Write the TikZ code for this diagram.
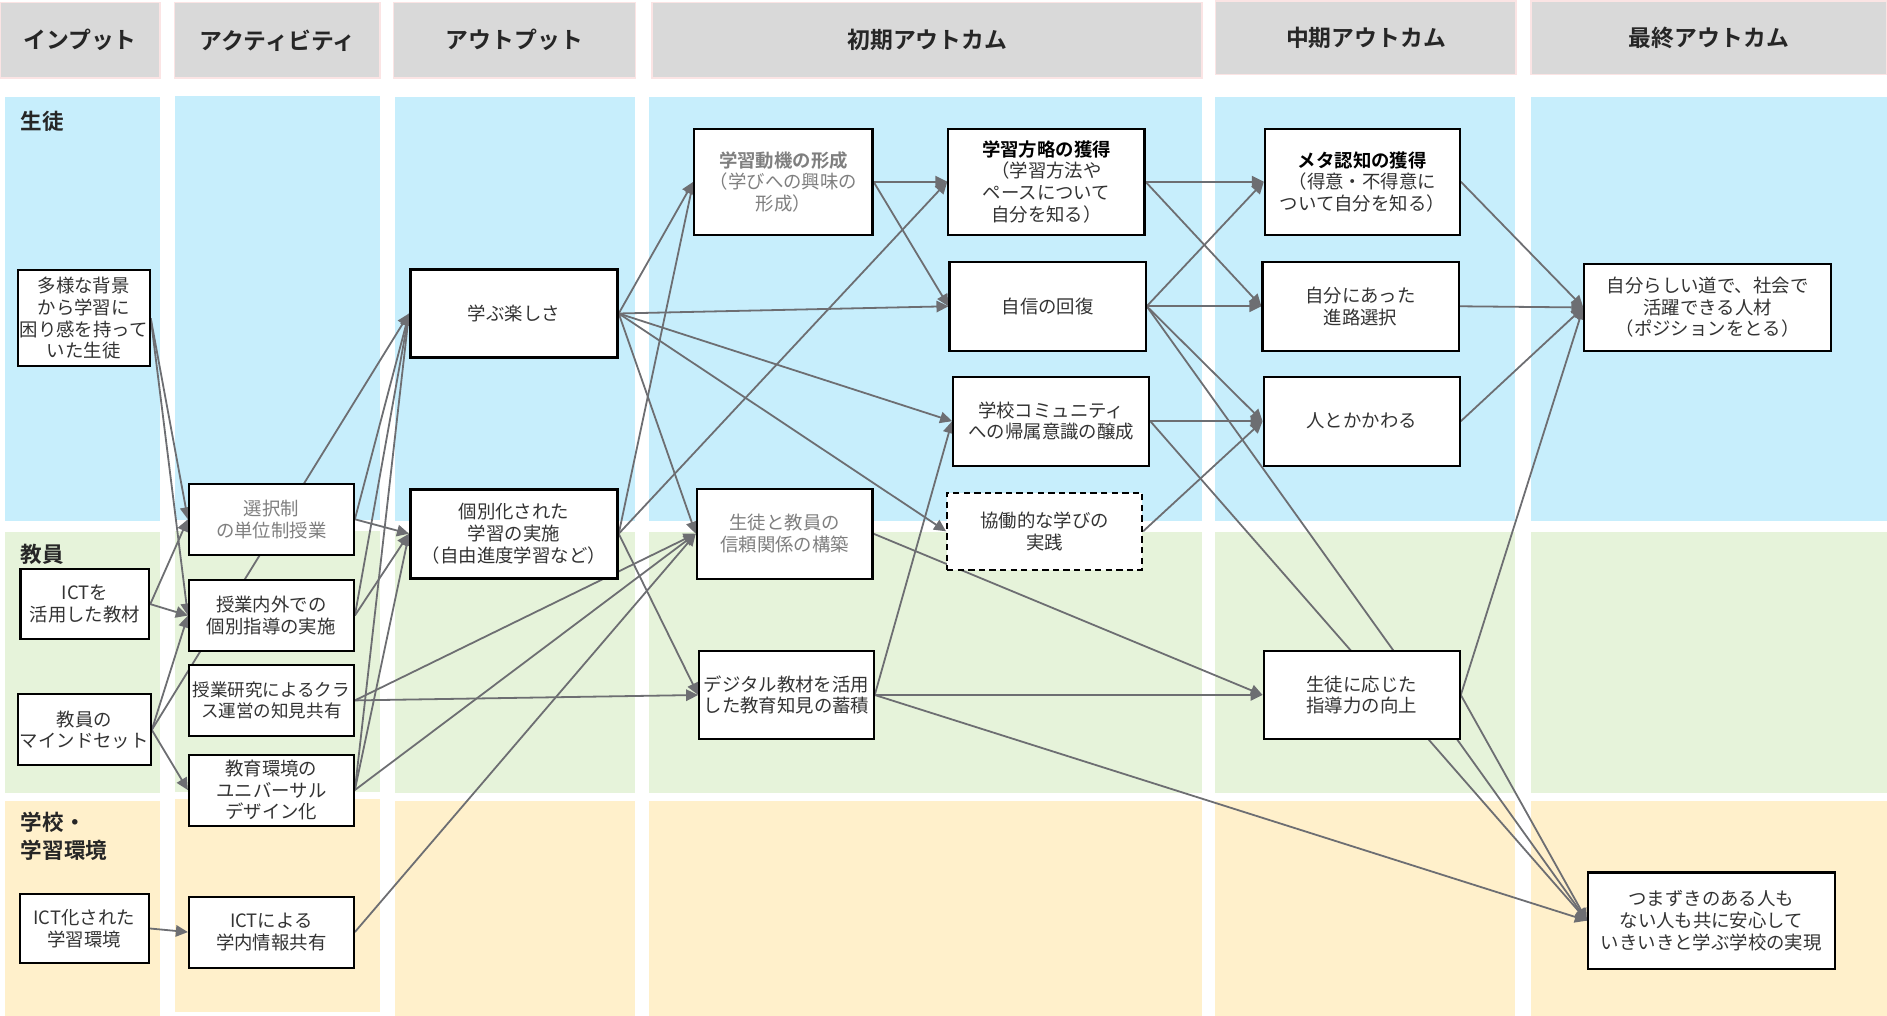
\documentclass[tikz,border=0pt]{standalone}
\usepackage{fontspec}
\setmainfont{Noto Sans CJK JP}[BoldFont={Noto Sans CJK JP Bold}]
\usepackage{tikz}
\usetikzlibrary{arrows.meta}
\pgfdeclarelayer{bands}
\pgfdeclarelayer{edges}
\pgfsetlayers{bands,edges,main}

\definecolor{hdrgray}{HTML}{D9D9D9}
\definecolor{hdrline}{HTML}{FBE4E4}
\definecolor{stublue}{HTML}{C7EEFC}
\definecolor{tchgreen}{HTML}{E6F3DA}
\definecolor{schyellow}{HTML}{FFF0CB}
\definecolor{linegray}{HTML}{6D6E72}
\definecolor{txthead}{HTML}{262626}
\definecolor{txtdark}{HTML}{333333}
\definecolor{txtlight}{HTML}{7F7F7F}

\begin{document}
\begin{tikzpicture}[x=0.02cm, y=-0.02cm,
	hdr/.style={fill=hdrgray, draw=hdrline, line width=0.8pt, text=txthead, font=\fontsize{10.8}{12}\selectfont\bfseries},
	grp/.style={text=txthead, font=\fontsize{10.2}{13}\selectfont\bfseries, align=left, inner sep=0pt, anchor=west},
	box/.style={draw=black, line width=1pt, fill=white, align=center, inner sep=1pt, text=txtdark, font=\fontsize{8.7}{10.2}\selectfont},
	pale/.style={box, text=txtlight},
	arr/.style={draw=linegray, line width=0.85pt, -{Triangle[length=0.2cm, width=0.19cm]}}]
	\useasboundingbox (0,0) rectangle (1568,844);
	%
	\begin{pgfonlayer}{bands}
	\fill[stublue] (4,81) rectangle (133,433);
	\fill[stublue] (145,80) rectangle (316,432);
	\fill[stublue] (328,81) rectangle (528,433);
	\fill[stublue] (539,81) rectangle (999,433);
	\fill[stublue] (1010,81) rectangle (1259,433);
	\fill[stublue] (1272,81) rectangle (1568,433);
	\fill[tchgreen] (4,442) rectangle (133,659);
	\fill[tchgreen] (145,441) rectangle (316,658);
	\fill[tchgreen] (328,442) rectangle (528,659);
	\fill[tchgreen] (539,442) rectangle (999,659);
	\fill[tchgreen] (1010,442) rectangle (1259,659);
	\fill[tchgreen] (1272,442) rectangle (1568,659);
	\fill[schyellow] (4,666) rectangle (133,844);
	\fill[schyellow] (145,664) rectangle (316,841);
	\fill[schyellow] (328,666) rectangle (528,844);
	\fill[schyellow] (539,666) rectangle (999,844);
	\fill[schyellow] (1010,666) rectangle (1259,844);
	\fill[schyellow] (1272,666) rectangle (1568,844);
	\end{pgfonlayer}
	%
	\node[hdr, minimum width=2.66cm, minimum height=1.26cm] (hin) at (66.5,33.5) {インプット};
	\node[hdr, minimum width=3.42cm, minimum height=1.26cm] (hact) at (230.5,33.5) {アクティビティ};
	\node[hdr, minimum width=4.02cm, minimum height=1.26cm] (hout) at (427.5,33.5) {アウトプット};
	\node[hdr, minimum width=9.14cm, minimum height=1.26cm] (hini) at (770.5,33.5) {初期アウトカム};
	\node[hdr, minimum width=5.0cm, minimum height=1.22cm] (hmid) at (1135,31.5) {中期アウトカム};
	\node[hdr, minimum width=5.92cm, minimum height=1.22cm] (hfin) at (1420,31.5) {最終アウトカム};
	%
	\node[grp] (gstu) at (17,100.5) {生徒};
	\node[grp] (gtch) at (17,460.5) {教員};
	\node[grp] (gsch) at (17,695) {学校・\\学習環境};
	%
	\node[box, minimum width=2.12cm, minimum height=1.6cm] (in1) at (69.5,264.5) {多様な背景\\から学習に\\困り感を持って\\いた生徒};
	\node[box, minimum width=2.14cm, minimum height=1.16cm] (in2) at (70.5,502) {ICTを\\活用した教材};
	\node[box, minimum width=2.14cm, minimum height=1.18cm] (in3) at (70,606.5) {教員の\\マインドセット};
	\node[box, minimum width=2.14cm, minimum height=1.16cm] (in4) at (70,771.5) {ICT化された\\学習環境};
	%
	\node[pale, minimum width=2.74cm, minimum height=1.18cm] (act1) at (225.5,431.5) {選択制\\の単位制授業};
	\node[box, minimum width=2.74cm, minimum height=1.18cm] (act2) at (225.5,511.5) {授業内外での\\個別指導の実施};
	\node[box, inner sep=0pt, font=\fontsize{8.3}{10.2}\selectfont, minimum width=2.74cm, minimum height=1.18cm] (act3) at (225.5,582) {授業研究によるクラ\\ス運営の知見共有};
	\node[box, minimum width=2.74cm, minimum height=1.18cm] (act4) at (225.5,656.5) {教育環境の\\ユニバーサル\\デザイン化};
	\node[box, minimum width=2.74cm, minimum height=1.18cm] (act5) at (225.5,774.5) {ICTによる\\学内情報共有};
	%
	\node[box, line width=1.3pt, minimum width=3.44cm, minimum height=1.46cm] (out1) at (427,260.5) {学ぶ楽しさ};
	\node[box, line width=1.3pt, minimum width=3.44cm, minimum height=1.48cm] (out2) at (427,443.5) {個別化された\\学習の実施\\（自由進度学習など）};
	%
	\node[pale, minimum width=2.96cm, minimum height=1.76cm] (ini1) at (651,151) {\textbf{学習動機の形成}\\（学びへの興味の\\形成）};
	\node[box, minimum width=3.26cm, minimum height=1.76cm] (ini2) at (869.5,151) {\textbf{\color{black}学習方略の獲得}\\（学習方法や\\ペースについて\\自分を知る）};
	\node[box, minimum width=3.26cm, minimum height=1.48cm] (ini3) at (870.5,254.5) {自信の回復};
	\node[box, minimum width=3.26cm, minimum height=1.48cm] (ini4) at (873.5,350) {学校コミュニティ\\への帰属意識の醸成};
	\node[box, dash pattern=on 3pt off 2pt, minimum width=3.24cm, minimum height=1.28cm] (ini5) at (868,441.5) {協働的な学びの\\実践};
	\node[pale, minimum width=2.92cm, minimum height=1.5cm] (ini6) at (652,443.5) {生徒と教員の\\信頼関係の構築};
	\node[box, inner sep=0pt, minimum width=2.9cm, minimum height=1.46cm] (ini7) at (653.5,577.5) {デジタル教材を活用\\した教育知見の蓄積};
	%
	\node[box, minimum width=3.24cm, minimum height=1.76cm] (mid1) at (1132,151) {\textbf{\color{black}メタ認知の獲得}\\（得意・不得意に\\ついて自分を知る）};
	\node[box, minimum width=3.26cm, minimum height=1.48cm] (mid2) at (1130.5,254.5) {自分にあった\\進路選択};
	\node[box, minimum width=3.26cm, minimum height=1.48cm] (mid3) at (1131.5,350) {人とかかわる};
	\node[box, minimum width=3.26cm, minimum height=1.46cm] (mid4) at (1131.5,577.5) {生徒に応じた\\指導力の向上};
	%
	\node[box, minimum width=4.1cm, minimum height=1.46cm] (fin1) at (1419,255.5) {自分らしい道で、社会で\\活躍できる人材\\（ポジションをとる）};
	\node[box, minimum width=4.1cm, minimum height=1.6cm] (fin2) at (1422,765) {つまずきのある人も\\ない人も共に安心して\\いきいきと学ぶ学校の実現};
	%
	\begin{pgfonlayer}{edges}
	\draw[arr] (in1.east) -- (act1.west);
	\draw[arr] (in1.east) -- (act2.west);
	\draw[arr] (in2.east) -- (act1.west);
	\draw[arr] (in2.east) -- (act2.west);
	\draw[arr] (in3.east) -- (act2.west);
	\draw[arr] (in3.east) -- (act4.west);
	\draw[arr] (in3.east) -- (out1.west);
	\draw[arr] (in4.east) -- (act5.west);
	\draw[arr] (act1.east) -- (out1.west);
	\draw[arr] (act1.east) -- (out2.west);
	\draw[arr] (act2.east) -- (out1.west);
	\draw[arr] (act2.east) -- (out2.west);
	\draw[arr] (act3.east) -- (ini6.west);
	\draw[arr] (act3.east) -- (ini7.west);
	\draw[arr] (act4.east) -- (out1.west);
	\draw[arr] (act4.east) -- (out2.west);
	\draw[arr] (act4.east) -- (ini6.west);
	\draw[arr] (act5.east) -- (ini6.west);
	\draw[arr] (out1.east) -- (ini1.west);
	\draw[arr] (out1.east) -- (ini3.west);
	\draw[arr] (out1.east) -- (ini4.west);
	\draw[arr] (out1.east) -- (ini5.west);
	\draw[arr] (out1.east) -- (ini6.west);
	\draw[arr] (out2.east) -- (ini1.west);
	\draw[arr] (out2.east) -- (ini2.west);
	\draw[arr] (out2.east) -- (ini7.west);
	\draw[arr] (ini1.east) -- (ini2.west);
	\draw[arr] (ini1.east) -- (ini3.west);
	\draw[arr] (ini2.east) -- (mid1.west);
	\draw[arr] (ini2.east) -- (mid2.west);
	\draw[arr] (ini3.east) -- (mid1.west);
	\draw[arr] (ini3.east) -- (mid2.west);
	\draw[arr] (ini3.east) -- (mid3.west);
	\draw[arr] (ini3.east) -- (fin2.west);
	\draw[arr] (ini4.east) -- (mid3.west);
	\draw[arr] (ini4.east) -- (fin2.west);
	\draw[arr] (ini5.east) -- (mid3.west);
	\draw[arr] (ini6.east) -- (mid4.west);
	\draw[arr] (ini7.east) -- (ini4.west);
	\draw[arr] (ini7.east) -- (mid4.west);
	\draw[arr] (ini7.east) -- (fin2.west);
	\draw[arr] (mid1.east) -- (fin1.west);
	\draw[arr] (mid2.east) -- (fin1.west);
	\draw[arr] (mid3.east) -- (fin1.west);
	\draw[arr] (mid4.east) -- (fin1.west);
	\draw[arr] (mid4.east) -- (fin2.west);
	\end{pgfonlayer}
\end{tikzpicture}
\end{document}
